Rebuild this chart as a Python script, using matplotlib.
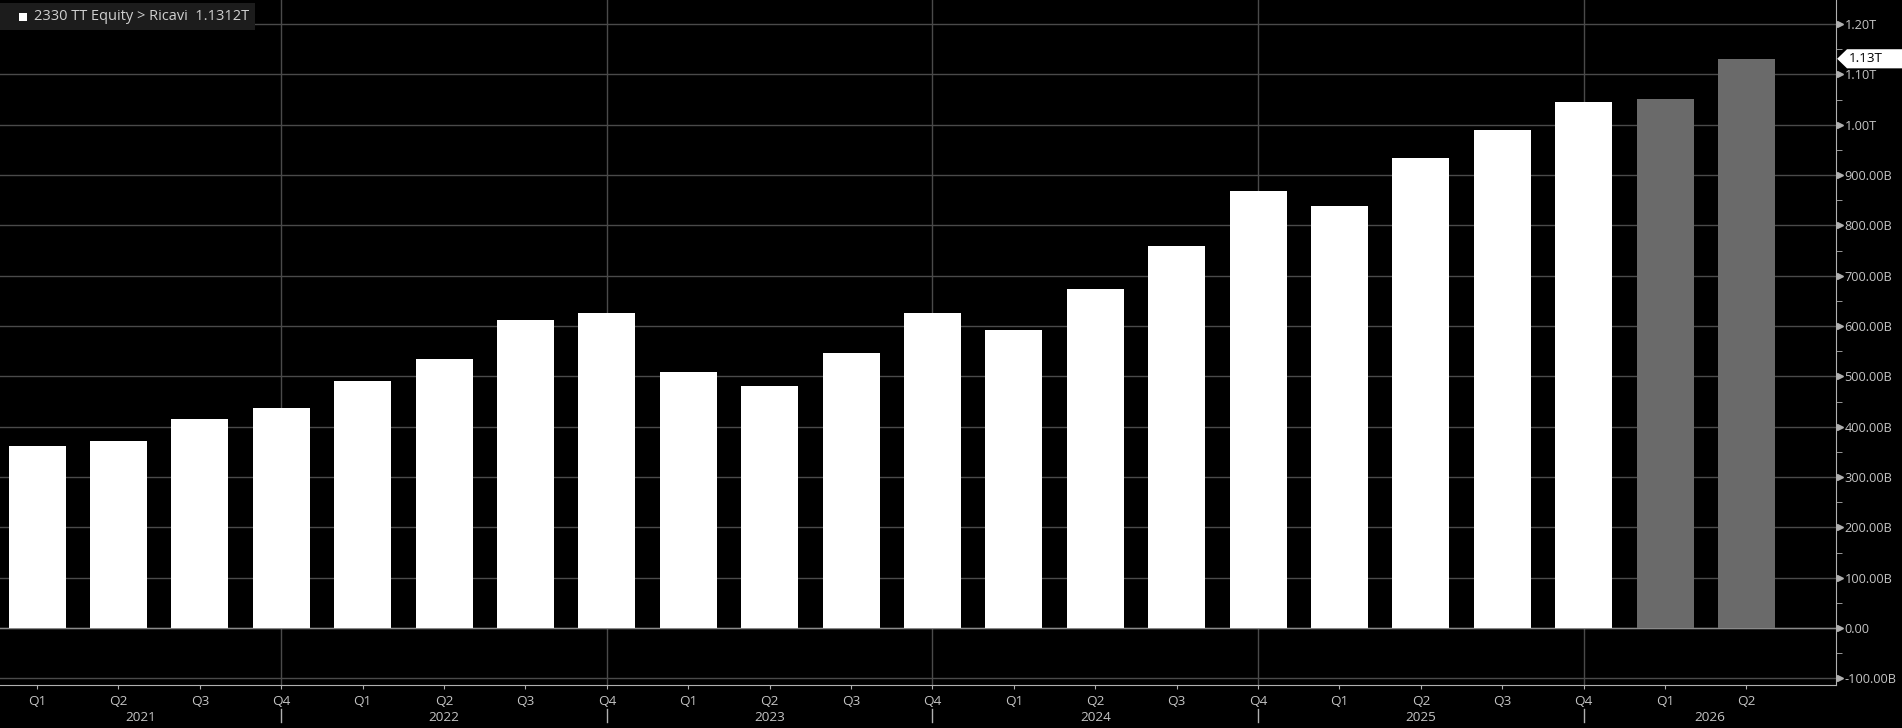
import matplotlib
matplotlib.use("Agg")
import matplotlib.pyplot as plt
import matplotlib.transforms as mtransforms
from matplotlib.patches import Polygon
import numpy as np

# Ricavi trimestrali 2330 TT (miliardi TWD)
quarters = ["Q1", "Q2", "Q3", "Q4"] * 5 + ["Q1", "Q2"]
years = ["2021", "2022", "2023", "2024", "2025", "2026"]
revenue = [362.4, 372.2, 414.7, 438.2,
           491.1, 534.1, 613.1, 625.5,
           508.6, 480.8, 546.7, 625.5,
           592.6, 673.5, 759.7, 868.5,
           839.3, 933.8, 989.9, 1046.0,
           1051.0, 1131.2]
is_estimate = [False] * 20 + [True, True]
y_ticks = [-100, 0, 100, 200, 300, 400, 500, 600, 700, 800, 900, 1000, 1100, 1200]
last_value = 1131.2
title = "2330 TT Equity > Ricavi  1.1312T"


def fmt(v):
    if v == 0:
        return "0.00"
    if abs(v) >= 1000:
        return f"{v / 1000:.2f}T"
    return f"{v:.2f}B"


plt.rcParams["font.family"] = ["Open Sans", "DejaVu Sans"]
txt = "#c4c4c4"
grid = "#4a4a4a"
fs = 9.2

fig = plt.figure(figsize=(19.02, 7.28), dpi=100, facecolor="black")
ax = fig.add_axes([0, 1 - 685 / 728, 1836 / 1902, 685 / 728])
ax.set_facecolor("black")

x = np.arange(len(revenue))
colors = ["#6a6a6a" if e else "white" for e in is_estimate]
ax.bar(x, revenue, width=0.7, color=colors, zorder=3)

xmin, xmax = -0.455, 22.1
ax.set_xlim(xmin, xmax)
ax.set_ylim(-113, 1248)

# griglia orizzontale
ax.set_yticks(y_ticks)
ax.set_yticks(np.arange(-50, 1250, 100), minor=True)
ax.grid(axis="y", which="major", color=grid, linewidth=1, zorder=1)
ax.axhline(0, color="#8a8a8a", linewidth=1, zorder=2)

# linee verticali di separazione anni (sui Q4)
q4_pos = [i for i, q in enumerate(quarters) if q == "Q4"]
for p in q4_pos:
    ax.axvline(p, color=grid, linewidth=1, zorder=1)

for s in ["top", "left"]:
    ax.spines[s].set_visible(False)
ax.spines["right"].set_color("#b0b0b0")
ax.spines["bottom"].set_color("#b0b0b0")

ax.yaxis.tick_right()
ax.set_yticklabels([fmt(v) for v in y_ticks])
ax.tick_params(axis="y", which="major", length=0, pad=6, labelcolor=txt, labelsize=fs)
ax.tick_params(axis="y", which="minor", length=4, color="#b0b0b0", direction="out")
ytrans = mtransforms.blended_transform_factory(ax.transAxes, ax.transData)
# frecce sui tick principali
ax.plot([1.002] * len(y_ticks), y_ticks, marker=">", markersize=4, color="#b0b0b0",
        linestyle="none", transform=ytrans, clip_on=False)

ax.set_xticks(x)
ax.set_xticklabels(quarters)
ax.tick_params(axis="x", length=3, color="#b0b0b0", labelcolor=txt, labelsize=fs + 0.5, pad=4)

# etichette anni
trans = mtransforms.blended_transform_factory(ax.transData, ax.transAxes)
bounds = [xmin] + q4_pos + [xmax]
for i, yr in enumerate(years):
    mid = (bounds[i] + bounds[i + 1]) / 2
    ax.text(mid, -0.047, yr, transform=trans, ha="center", va="center", color=txt, fontsize=fs + 0.5)
for p in q4_pos:
    ax.plot([p, p], [-0.035, -0.054], transform=trans, color="#b0b0b0", linewidth=1, clip_on=False)

# etichetta ultimo valore
h = 19
tag = Polygon([(1.0006, last_value), (1.006, last_value + h), (1.04, last_value + h),
               (1.04, last_value - h), (1.006, last_value - h)], closed=True,
              transform=ytrans, facecolor="white", edgecolor="none", clip_on=False, zorder=6)
ax.add_patch(tag)
ax.text(1.0068, last_value, fmt(last_value), transform=ytrans, ha="left", va="center",
        fontsize=fs + 0.5, color="black", zorder=7)

# legenda
fig.patches.append(plt.Rectangle((0, 1 - 30 / 728), 255 / 1902, 27 / 728, transform=fig.transFigure,
                                 facecolor="#1c1c1c", edgecolor="none", zorder=5))
fig.patches.append(plt.Rectangle((19 / 1902, 1 - 21 / 728), 8 / 1902, 8 / 728, transform=fig.transFigure,
                                 facecolor="white", edgecolor="none", zorder=6))
fig.text(34 / 1902, 1 - 17 / 728, title, color="#d0d0d0", fontsize=10.5, va="center", ha="left", zorder=7)

fig.savefig("out.png", dpi=100, facecolor="black")
